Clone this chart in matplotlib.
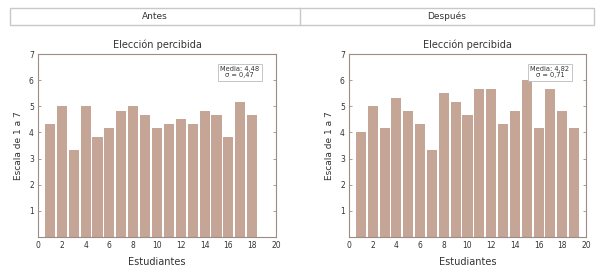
import matplotlib
matplotlib.use("Agg")
import matplotlib.pyplot as plt
from matplotlib.patches import Rectangle
from matplotlib.lines import Line2D

antes = [4.33, 5.0, 3.33, 5.0, 3.83, 4.17, 4.83, 5.0, 4.67, 4.17, 4.33, 4.5, 4.33, 4.83, 4.67, 3.83, 5.17, 4.67]
despues = [4.0, 5.0, 4.17, 5.33, 4.83, 4.33, 3.33, 5.5, 5.17, 4.67, 5.67, 5.67, 4.33, 4.83, 6.0, 4.17, 5.67, 4.83, 4.17]
headers = ["Antes", "Después"]
title = "Elección percibida"
xlabel = "Estudiantes"
ylabel = "Escala de 1 a 7"
stats = ["Media: 4,48\nσ = 0,47", "Media: 4,82\nσ = 0,71"]
yticks = [1, 2, 3, 4, 5, 6, 7]
xticks = list(range(0, 21, 2))

bar_color = "#c4a596"
frame_color = "#9c8c84"
text_color = "#333333"

fig = plt.figure(figsize=(6.05, 2.7), dpi=100)
fig.patch.set_facecolor("white")

# Header table
y0, y1 = 1 - 25/270, 1 - 8/270
xl, xm, xr = 10/605, 300/605, 594/605
hc = "#c8c8c8"
fig.add_artist(Rectangle((xl, y0), xr - xl, y1 - y0, transform=fig.transFigure,
                         fill=False, edgecolor=hc, linewidth=1.0))
fig.add_artist(Line2D([xm, xm], [y0, y1], transform=fig.transFigure, color=hc, linewidth=1.0))
fig.text((xl + xm) / 2, (y0 + y1) / 2, headers[0], ha="center", va="center", fontsize=6.5, color=text_color)
fig.text((xm + xr) / 2, (y0 + y1) / 2, headers[1], ha="center", va="center", fontsize=6.5, color=text_color)

positions = [(38/605, 1 - 237/270, 238/605, 183/270),
             (349/605, 1 - 237/270, 237/605, 183/270)]

for pos, data, st in zip(positions, [antes, despues], stats):
    ax = fig.add_axes(pos)
    xs = list(range(1, len(data) + 1))
    ax.bar(xs, data, width=0.85, color=bar_color, edgecolor="none")
    ax.set_xlim(0, 20)
    ax.set_ylim(0, 7)
    ax.set_xticks(xticks)
    ax.set_yticks(yticks)
    ax.tick_params(axis="both", direction="in", length=2.5, width=0.6, color=frame_color,
                   labelsize=5.5, labelcolor=text_color, pad=3)
    ax.tick_params(axis="y", right=True)
    ax.tick_params(axis="x", bottom=False)
    for s in ax.spines.values():
        s.set_color(frame_color)
        s.set_linewidth(0.8)
    ax.set_title(title, fontsize=7, color=text_color, pad=4)
    ax.set_xlabel(xlabel, fontsize=7, color=text_color, labelpad=5)
    ax.set_ylabel(ylabel, fontsize=6.5, color=text_color, labelpad=4)
    ax.text(0.93, 0.935, st, transform=ax.transAxes, ha="right", va="top",
            fontsize=4.8, color=text_color, linespacing=1.1, multialignment="center",
            bbox=dict(boxstyle="square,pad=0.35", facecolor="white", edgecolor="#bbbbbb", linewidth=0.6))

fig.savefig("out.png", dpi=100, facecolor="white")
